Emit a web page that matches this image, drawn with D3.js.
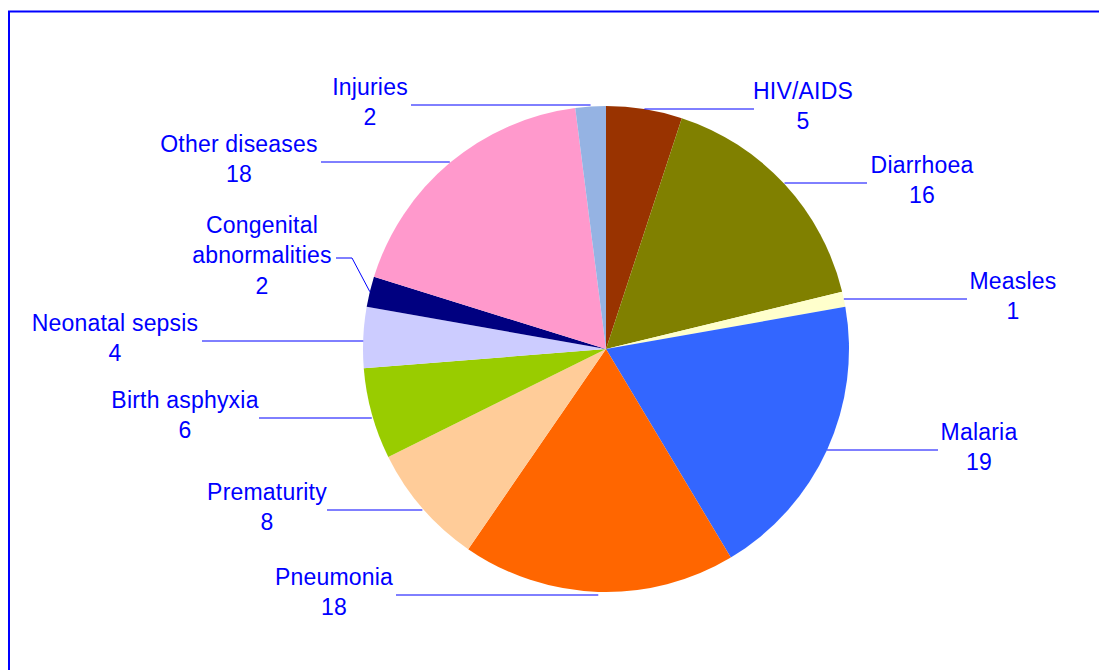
<!DOCTYPE html>
<html lang="en">
<head>
  <meta charset="UTF-8">
  <title>Causes of child deaths</title>
  <style>
    html, body { margin: 0; padding: 0; background: #ffffff; }
    #chart { display: block; }
    .lbl { font-family: "Liberation Sans", Arial, sans-serif; font-size: 23px; fill: #0000ff; letter-spacing: 0.2px; }
  </style>
</head>
<body>
  <svg id="chart"></svg>

  <script src="https://d3js.org/d3.v7.min.js"></script>
  <script>
    const width = 1099;
    const height = 670;

    // Data
    const categories = ["HIV/AIDS", "Diarrhoea", "Measles", "Malaria", "Pneumonia", "Prematurity",
      "Birth asphyxia", "Neonatal sepsis", "Congenital abnormalities", "Other diseases", "Injuries"];
    const values = [5, 16, 1, 19, 18, 8, 6, 4, 2, 18, 2];
    const colors = ["#993300", "#808000", "#ffffcc", "#3366ff", "#ff6600", "#ffcc99",
      "#99cc00", "#ccccff", "#000080", "#ff99cc", "#95b3e3"];
    const labelLines = [["HIV/AIDS"], ["Diarrhoea"], ["Measles"], ["Malaria"], ["Pneumonia"], ["Prematurity"],
      ["Birth asphyxia"], ["Neonatal sepsis"], ["Congenital", "abnormalities"], ["Other diseases"], ["Injuries"]];

    // label placement: [text centre x, leader y, leader end x]
    const labelPos = [
      [803, 109, 754], [922, 183, 867], [1013, 299, 967], [979, 450, 938],
      [334, 595, 396], [267, 510, 327], [185, 418, 259], [115, 341, 202],
      [262, 258, 336], [239, 162, 321], [370, 105, 411]
    ];

    const cx = 606, cy = 349, radius = 243;

    const svg = d3.select("#chart")
      .attr("width", width)
      .attr("height", height);

    // blue frame (runs off the right and bottom edges)
    svg.append("rect")
      .attr("x", 9).attr("y", 11.5)
      .attr("width", 1300).attr("height", 900)
      .attr("fill", "none")
      .attr("stroke", "#0000ff")
      .attr("stroke-width", 2);

    const pie = d3.pie().sort(null).value(d => d)(values);
    const arc = d3.arc().innerRadius(0).outerRadius(radius);

    const g = svg.append("g").attr("transform", `translate(${cx},${cy})`);

    g.selectAll("path.slice")
      .data(pie)
      .join("path")
      .attr("class", "slice")
      .attr("d", arc)
      .attr("fill", (d, i) => colors[i]);

    // leader lines
    pie.forEach((d, i) => {
      const a = (d.startAngle + d.endAngle) / 2;
      const px = cx + radius * Math.sin(a);
      const py = cy - radius * Math.cos(a);
      const [tx, ly, ex] = labelPos[i];
      let pts;
      if (Math.abs(py - ly) < 8) {
        pts = [[px, ly], [ex, ly]];
      } else {
        const elbow = ex + (px > ex ? 16 : -16);
        pts = [[px, py], [elbow, ly], [ex, ly]];
      }
      svg.append("path")
        .attr("d", d3.line()(pts))
        .attr("fill", "none")
        .attr("stroke", "#0000ff")
        .attr("stroke-width", 1);
    });

    // labels: name lines + value
    categories.forEach((c, i) => {
      const lines = labelLines[i].concat([String(values[i])]);
      const [tx, ly] = labelPos[i];
      const centre = ly + 5;
      const lh = 30.5;
      const text = svg.append("text")
        .attr("class", "lbl")
        .attr("text-anchor", "middle");
      lines.forEach((s, k) => {
        text.append("tspan")
          .attr("x", tx)
          .attr("y", centre + (k - (lines.length - 1) / 2) * lh)
          .text(s);
      });
    });
  </script>
</body>
</html>
